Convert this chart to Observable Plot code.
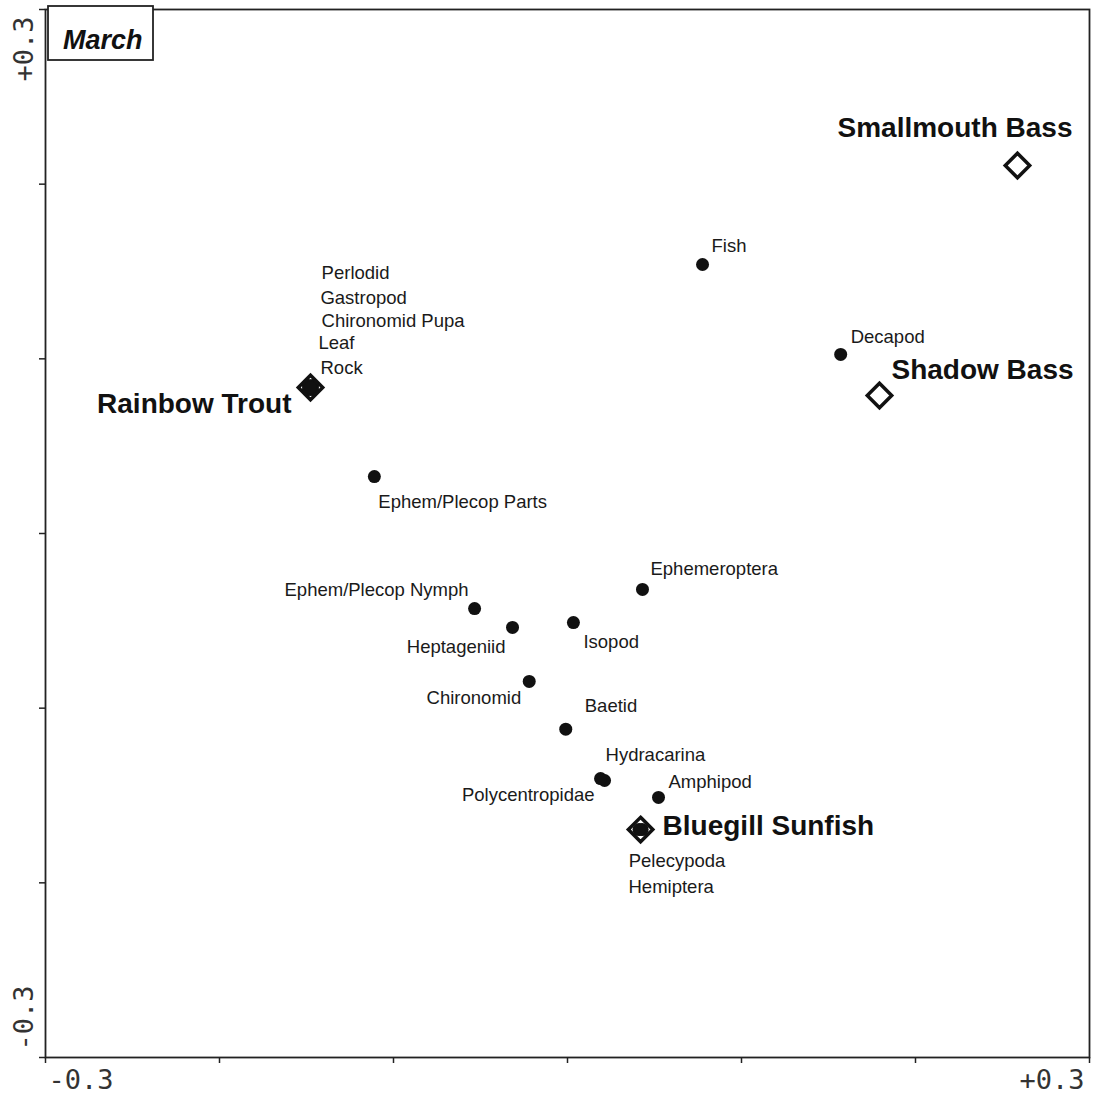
<!DOCTYPE html>
<html>
<head>
<meta charset="utf-8">
<script src="https://cdn.jsdelivr.net/npm/d3@7"></script>
<script src="https://cdn.jsdelivr.net/npm/@observablehq/plot@0.6"></script>
<style>
  html, body { margin: 0; padding: 0; background: #fff; }
  #chart { width: 1096px; height: 1097px; }
</style>
</head>
<body>
<div id="chart"></div>
<script>
// ---- Data ----
const panelTitle = "March";

const preyNames = ["Fish", "Decapod", "Ephem/Plecop Parts", "Ephemeroptera", "Ephem/Plecop Nymph",
  "Heptageniid", "Isopod", "Chironomid", "Baetid", "Hydracarina", "Polycentropidae", "Amphipod",
  "Perlodid", "Gastropod", "Chironomid Pupa", "Leaf", "Rock", "Pelecypoda", "Hemiptera"];
const preyX = [0.0776, 0.157, -0.111, 0.0431, -0.0534,
  -0.0316, 0.0034, -0.022, -0.001, 0.0213, 0.019, 0.0523,
  -0.1465, -0.1489, -0.1465, -0.1489, -0.1477, 0.0429, 0.0411];
const preyY = [0.154, 0.1025, 0.0326, -0.032, -0.043,
  -0.0538, -0.051, -0.0847, -0.112, -0.1414, -0.1403, -0.1511,
  0.0848, 0.0848, 0.0824, 0.0824, 0.0836, -0.1695, -0.1695];

const speciesNames = ["Smallmouth Bass", "Shadow Bass", "Rainbow Trout", "Bluegill Sunfish"];
const speciesX = [0.2586, 0.1793, -0.1477, 0.042];
const speciesY = [0.2107, 0.079, 0.0836, -0.1695];

const axisTicks = [-0.3, -0.2, -0.1, 0, 0.1, 0.2, 0.3];
const endTickValues = [-0.3, 0.3];
const endTickLabels = ["-0.3", "+0.3"];

// ---- Label placement (style, not data) ----
const preyLabelPlace = {
  "Fish": [9, -18, "start"],
  "Decapod": [10, -17, "start"],
  "Ephem/Plecop Parts": [4, 26, "start"],
  "Ephemeroptera": [8, -20, "start"],
  "Ephem/Plecop Nymph": [-6, -19, "end"],
  "Heptageniid": [-7, 20, "end"],
  "Isopod": [10, 19, "start"],
  "Chironomid": [-8, 17, "end"],
  "Baetid": [19, -23, "start"],
  "Hydracarina": [1, -25, "start"],
  "Polycentropidae": [-6, 17, "end"],
  "Amphipod": [10, -15, "start"],
  "Perlodid": [9, -112, "start"],
  "Gastropod": [12, -87, "start"],
  "Chironomid Pupa": [9, -68, "start"],
  "Leaf": [10, -46, "start"],
  "Rock": [10, -19, "start"],
  "Pelecypoda": [-13.5, 32, "start"],
  "Hemiptera": [-10.5, 58, "start"]
};
const speciesLabelPlace = {
  "Smallmouth Bass": [55, -37, "end"],
  "Shadow Bass": [12, -25, "start"],
  "Rainbow Trout": [-19, 17, "end"],
  "Bluegill Sunfish": [22, -4, "start"]
};

const prey = preyNames.map((name, i) => ({name, x: preyX[i], y: preyY[i]}));
const species = speciesNames.map((name, i) => ({name, x: speciesX[i], y: speciesY[i]}));

const ink = "#111";
const smallFont = "'Liberation Sans', Arial, sans-serif";
const monoFont = "'DejaVu Sans Mono', monospace";

const preyLabelMarks = prey.map(d => {
  const [dx, dy, anchor] = preyLabelPlace[d.name];
  return Plot.text([d], {x: "x", y: "y", text: "name", dx, dy, textAnchor: anchor,
    fontSize: 18.5, fontFamily: smallFont, fill: "#1a1a1a"});
});
const speciesLabelMarks = species.map(d => {
  const [dx, dy, anchor] = speciesLabelPlace[d.name];
  return Plot.text([d], {x: "x", y: "y", text: "name", dx, dy, textAnchor: anchor,
    fontSize: 28, fontWeight: "bold", fontFamily: smallFont, fill: ink});
});

// Boxed panel title in the top-left corner of the frame
function titleBox(index, scales, values, dims) {
  const g = d3.create("svg:g");
  const x0 = dims.marginLeft + 3, y0 = dims.marginTop - 3;
  g.append("rect").attr("x", x0).attr("y", y0).attr("width", 105).attr("height", 54)
    .attr("fill", "white").attr("stroke", "#222").attr("stroke-width", 1.8);
  g.append("text").attr("x", x0 + 15).attr("y", y0 + 43)
    .attr("text-anchor", "start")
    .attr("font-family", smallFont).attr("font-size", 27).attr("font-weight", "bold")
    .attr("font-style", "italic").attr("fill", ink).text(panelTitle);
  return g.node();
}

const tickStyle = {fontFamily: monoFont, fontSize: 27, fill: "#333"};

const chart = Plot.plot({
  width: 1096,
  height: 1097,
  marginLeft: 45,
  marginRight: 7,
  marginTop: 9,
  marginBottom: 40,
  x: {domain: [-0.3, 0.3]},
  y: {domain: [-0.3, 0.3]},
  style: {background: "white", fontFamily: smallFont},
  marks: [
    Plot.axisX({ticks: axisTicks, tickSize: 6, tickFormat: () => "", label: null, stroke: "#222", strokeWidth: 1.5}),
    Plot.axisY({ticks: axisTicks, tickSize: 6, tickFormat: () => "", label: null, stroke: "#222", strokeWidth: 1.5}),
    Plot.frame({stroke: "#222", strokeWidth: 1.8}),
    // x end labels
    Plot.text([endTickValues[0]], {x: d => d, text: () => endTickLabels[0], frameAnchor: "bottom",
      dy: 31, dx: 3, textAnchor: "start", ...tickStyle}),
    Plot.text([endTickValues[1]], {x: d => d, text: () => endTickLabels[1], frameAnchor: "bottom",
      dy: 31, dx: -5, textAnchor: "end", ...tickStyle}),
    // y end labels (rotated)
    Plot.text([endTickValues[1]], {y: d => d, text: () => endTickLabels[1], frameAnchor: "left",
      dx: -21, dy: 7, rotate: -90, textAnchor: "end", ...tickStyle}),
    Plot.text([endTickValues[0]], {y: d => d, text: () => endTickLabels[0], frameAnchor: "left",
      dx: -21, dy: -7, rotate: -90, textAnchor: "start", ...tickStyle}),
    // species diamonds
    Plot.dot(species, {x: "x", y: "y", symbol: "diamond2", r: 11, stroke: ink, strokeWidth: 3.5, fill: "white"}),
    // prey dots
    Plot.dot(prey, {x: "x", y: "y", r: 6.5, fill: ink, stroke: "none"}),
    ...preyLabelMarks,
    ...speciesLabelMarks,
    titleBox
  ]
});

document.getElementById("chart").appendChild(chart);
</script>
</body>
</html>
